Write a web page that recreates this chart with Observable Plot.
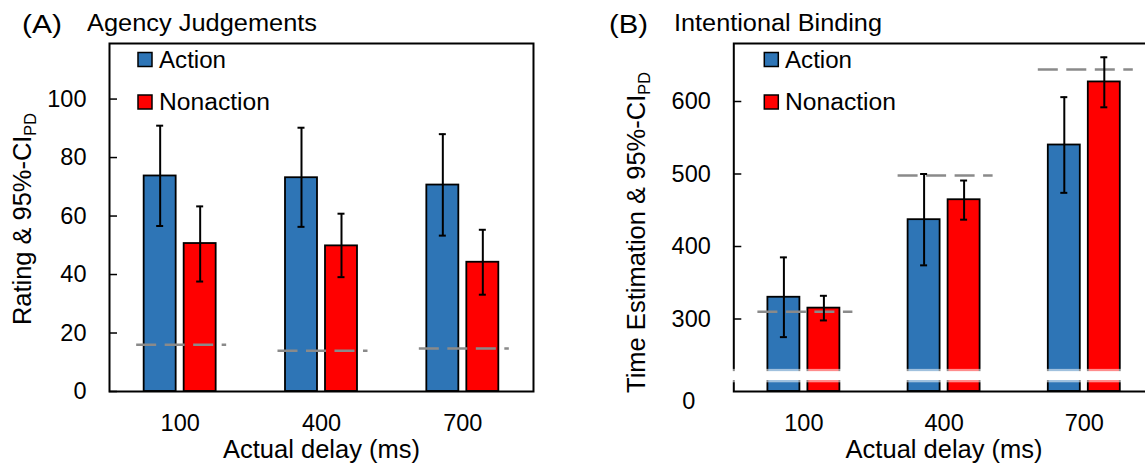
<!DOCTYPE html>
<html><head><meta charset="utf-8">
<script src="https://cdn.jsdelivr.net/npm/d3@7"></script>
<script src="https://cdn.jsdelivr.net/npm/@observablehq/plot@0.6"></script>
<style>
html,body{margin:0;padding:0;background:#fff;}
#root{position:relative;width:1145px;height:466px;overflow:hidden;font-family:"Liberation Sans",Arial,sans-serif;}
.panel{position:absolute;top:0;height:466px;overflow:hidden;}
.panel svg{max-width:none !important;}
#overlay{position:absolute;left:0;top:0;pointer-events:none;}
</style></head><body><div id="root"></div>
<script>
// ---- data ----
const delays = ["100", "400", "700"];
const seriesNames = ["Action", "Nonaction"];
const xLabel = "Actual delay (ms)";

// (A) Agency judgements
const agencyAction = [73.7, 73.1, 70.6];
const agencyActionLo = [56.6, 56.3, 53.3];
const agencyActionHi = [90.9, 90.2, 88.0];
const agencyNonaction = [50.6, 49.8, 44.2];
const agencyNonactionLo = [37.6, 39.1, 33.1];
const agencyNonactionHi = [63.3, 60.8, 55.3];
const agencyReference = [16.0, 13.9, 14.7];
const agencyTicks = [0, 20, 40, 60, 80, 100];

// (B) Intentional binding
const timeAction = [330, 437, 540];
const timeActionLo = [275, 374, 474];
const timeActionHi = [385, 500, 606];
const timeNonaction = [315, 464.5, 627];
const timeNonactionLo = [298, 437, 592];
const timeNonactionHi = [332, 491, 661];
const timeReference = [310, 498, 644];
const timeTicks = [300, 400, 500, 600];
const timeAxisFloor = 200;     // value at the broken axis' baseline (labelled "0")
const timeBreak = [215, 227.5]; // axis break band

const BLUE = "#2E75B6", RED = "#FF0000", GRAY = "#8A8A8A";
const FONT = '"Liberation Sans", Arial, sans-serif';

function rows(v, lo, hi) {
  return delays.map((d, i) => ({delay: d, value: v[i], lo: lo[i], hi: hi[i]}));
}
function refRows(r) { return delays.map((d, i) => ({delay: d, ref: r[i]})); }

function panel(o) {
  const half = o.band / 2;
  const act = rows(o.action, o.actionLo, o.actionHi);
  const non = rows(o.nonaction, o.nonactionLo, o.nonactionHi);
  const pIn = 1 - o.band / o.step;
  const marks = [
    Plot.barY(act, {x: "delay", y1: o.floor, y2: "value", fill: BLUE, stroke: "black", strokeWidth: 1.8,
      insetLeft: half - 36, insetRight: half + 4}),
    Plot.barY(non, {x: "delay", y1: o.floor, y2: "value", fill: RED, stroke: "black", strokeWidth: 1.8,
      insetLeft: half + 4, insetRight: half - 36}),
    Plot.tickY(refRows(o.reference), {x: "delay", y: "ref", stroke: GRAY, strokeWidth: 2.5,
      strokeDasharray: "20,8.5", dx: 1.5}),
    Plot.ruleX(act, {x: "delay", y1: "lo", y2: "hi", stroke: "black", strokeWidth: 2, dx: -20}),
    Plot.ruleX(non, {x: "delay", y1: "lo", y2: "hi", stroke: "black", strokeWidth: 2, dx: 20}),
    Plot.tickY(act, {x: "delay", y: "hi", stroke: "black", strokeWidth: 2, insetLeft: half - 23.5, insetRight: half + 16.5}),
    Plot.tickY(act, {x: "delay", y: "lo", stroke: "black", strokeWidth: 2, insetLeft: half - 23.5, insetRight: half + 16.5}),
    Plot.tickY(non, {x: "delay", y: "hi", stroke: "black", strokeWidth: 2, insetLeft: half + 16.5, insetRight: half - 23.5}),
    Plot.tickY(non, {x: "delay", y: "lo", stroke: "black", strokeWidth: 2, insetLeft: half + 16.5, insetRight: half - 23.5}),
    Plot.frame({stroke: "black", strokeWidth: 2}),
    Plot.tickY(o.ticks, {y: d => d, stroke: "black", strokeWidth: 1.5, insetRight: o.step * 3 - 8}),
    Plot.axisY(o.ticks, {tickSize: 0, tickPadding: 23, label: null, fontSize: 23.5}),
    Plot.axisX({tickSize: 0, tickPadding: 22.5, label: null, fontSize: 23.5}),
    Plot.text([xLabel], {text: d => d, frameAnchor: "bottom", lineAnchor: "bottom", dy: 66.3, fontSize: 25.5})
  ];
  if (o.extra) marks.push(...o.extra);
  return Plot.plot({
    width: o.width, height: 466,
    marginLeft: o.marginLeft, marginRight: o.width - o.marginLeft - 3 * o.step,
    marginTop: 43, marginBottom: 75,
    style: {fontFamily: FONT, fontSize: "23px", color: "black", background: "transparent", overflow: "visible", maxWidth: "none"},
    x: {type: "band", domain: delays, paddingInner: pIn, paddingOuter: pIn / 2, round: false},
    y: {domain: o.yDomain},
    marks
  });
}

const root = document.getElementById("root");

const plotA = panel({
  width: 580, marginLeft: 109, step: 141.33, band: 90, floor: 0, yDomain: [0, 119], ticks: agencyTicks,
  action: agencyAction, actionLo: agencyActionLo, actionHi: agencyActionHi,
  nonaction: agencyNonaction, nonactionLo: agencyNonactionLo, nonactionHi: agencyNonactionHi,
  reference: agencyReference
});
const divA = document.createElement("div");
divA.className = "panel"; divA.style.left = "0px"; divA.style.width = "580px";
divA.appendChild(plotA); root.appendChild(divA);

const plotB = panel({
  width: 600, marginLeft: 153.3, step: 140.2, band: 95, floor: timeAxisFloor, yDomain: [timeAxisFloor, 680], ticks: timeTicks,
  action: timeAction, actionLo: timeActionLo, actionHi: timeActionHi,
  nonaction: timeNonaction, nonactionLo: timeNonactionLo, nonactionHi: timeNonactionHi,
  reference: timeReference,
  extra: [
    Plot.rect([0], {y1: timeBreak[0], y2: timeBreak[1], fill: "white", insetLeft: -4, insetRight: -4}),
    Plot.rect([0], {y1: timeBreak[1], y2: timeBreak[1] + 3, fill: "white", fillOpacity: 0.55, insetLeft: -4, insetRight: -4}),
    Plot.rect([0], {y1: timeBreak[0] - 3, y2: timeBreak[0], fill: "white", fillOpacity: 0.55, insetLeft: -4, insetRight: -4}),
    Plot.text(["0"], {y: timeAxisFloor, text: d => d, frameAnchor: "left", dx: -45, dy: 10, textAnchor: "middle", fontSize: 23.5})
  ]
});
const divB = document.createElement("div");
divB.className = "panel"; divB.style.left = "580px"; divB.style.width = "565px";
divB.appendChild(plotB); root.appendChild(divB);

// ---- overlay: panel titles, legends, y labels ----
const ov = d3.select(root).append("svg").attr("id", "overlay").attr("width", 1145).attr("height", 466)
  .style("font-family", FONT);

function txt(s, x, y, size, len) {
  const t = ov.append("text").attr("x", x).attr("y", y).attr("font-size", size).attr("fill", "black").text(s);
  if (len) t.attr("textLength", len).attr("lengthAdjust", "spacingAndGlyphs");
  return t;
}
txt("(A)", 22, 32.5, 26, 40);
txt("Agency Judgements", 87, 31, 23, 230);
txt("(B)", 609, 32.5, 26, 39);
txt("Intentional Binding", 674, 31, 23, 208);

const legendColors = [BLUE, RED];
const legendWidths = [67, 111];
[[138, 159], [764.3, 785]].forEach(([sx, tx]) => {
  seriesNames.forEach((name, i) => {
    const top = [52.5, 95][i];
    ov.append("rect").attr("x", sx).attr("y", top).attr("width", 14).attr("height", 14)
      .attr("fill", legendColors[i]).attr("stroke", "black").attr("stroke-width", 1.5);
    txt(name, tx, [67.5, 110][i], 23, legendWidths[i]);
  });
});

function ylabel(main, cx, cy, len) {
  const t = ov.append("text").attr("transform", `translate(${cx},${cy}) rotate(-90)`)
    .attr("text-anchor", "middle").attr("font-size", 25).attr("fill", "black")
    .attr("textLength", len).attr("lengthAdjust", "spacingAndGlyphs");
  t.append("tspan").text(main);
  t.append("tspan").attr("font-size", 16).attr("dy", 5).text("PD");
}
ylabel("Rating & 95%-CI", 31, 219, 212);
ylabel("Time Estimation & 95%-CI", 645, 232.5, 321);
</script>
</body></html>
